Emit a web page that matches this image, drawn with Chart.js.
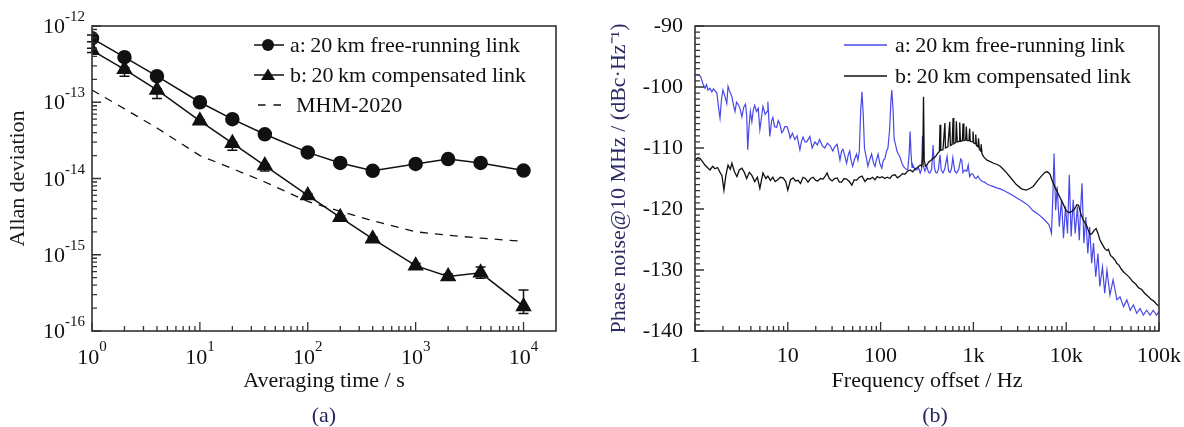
<!DOCTYPE html>
<html><head><meta charset="utf-8">
<script src="https://cdn.jsdelivr.net/npm/chart.js@4/dist/chart.umd.min.js"></script>
<style>
body{margin:0;background:#fff;width:1184px;height:427px;overflow:hidden;position:relative;font-family:"Liberation Serif","Times New Roman",serif;}
canvas{position:absolute;top:0;}
#ca{left:0;} #cb{left:592px;}
.lt{position:absolute;font-size:22px;line-height:26px;color:#111;white-space:nowrap;}
.ls{position:absolute;}
.cap{position:absolute;font-size:22px;line-height:26px;color:#262660;width:60px;text-align:center;}
</style></head>
<body>
<canvas id="ca" width="592" height="427"></canvas>
<canvas id="cb" width="592" height="427"></canvas>

<svg class="ls" style="left:253px;top:37px" width="32" height="16"><line x1="1" y1="8" x2="31" y2="8" stroke="#111" stroke-width="1.5"/><circle cx="15" cy="8" r="6" fill="#111"/></svg>
<div class="lt" style="left:290px;top:32px">a:&#8201;20&#8201;km free-running link</div>
<svg class="ls" style="left:253px;top:67px" width="32" height="16"><line x1="1" y1="8" x2="31" y2="8" stroke="#111" stroke-width="1.5"/><polygon points="15,1.5 22,13 8,13" fill="#111"/></svg>
<div class="lt" style="left:290px;top:62px">b:&#8201;20&#8201;km compensated link</div>
<svg class="ls" style="left:253px;top:97px" width="32" height="16"><line x1="5" y1="8" x2="28" y2="8" stroke="#111" stroke-width="1.3" stroke-dasharray="7.5 8"/></svg>
<div class="lt" style="left:296px;top:92px">MHM-2020</div>

<svg class="ls" style="left:844px;top:37px" width="44" height="16"><line x1="0" y1="8" x2="43" y2="8" stroke="#4848e8" stroke-width="1.3"/></svg>
<div class="lt" style="left:895px;top:32px">a:&#8201;20&#8201;km free-running link</div>
<svg class="ls" style="left:844px;top:68px" width="44" height="16"><line x1="0" y1="8" x2="43" y2="8" stroke="#111" stroke-width="1.3"/></svg>
<div class="lt" style="left:895px;top:63px">b:&#8201;20&#8201;km compensated link</div>

<div class="cap" style="left:294px;top:402px">(a)</div>
<div class="cap" style="left:905px;top:402px">(b)</div>

<script>
// ---------- Panel (a): Allan deviation ----------
const tau = [1,2,4,10,20,40,100,200,400,1000,2000,4000,10000];
const adevFree = [6.9e-13,3.9e-13,2.2e-13,1.0e-13,6.0e-14,3.8e-14,2.2e-14,1.6e-14,1.26e-14,1.55e-14,1.8e-14,1.6e-14,1.27e-14];
const adevFreeLo = [6.2e-13,3.8e-13,2.15e-13,9.8e-14,5.9e-14,3.7e-14,2.15e-14,1.56e-14,1.23e-14,1.5e-14,1.68e-14,1.45e-14,1.24e-14];
const adevFreeHi = [7.6e-13,4.0e-13,2.25e-13,1.02e-13,6.1e-14,3.9e-14,2.25e-14,1.64e-14,1.29e-14,1.6e-14,1.92e-14,1.76e-14,1.3e-14];
const adevComp = [4.8e-13,2.7e-13,1.45e-13,5.7e-14,2.9e-14,1.48e-14,6.0e-15,3.1e-15,1.62e-15,7.2e-16,5.2e-16,5.8e-16,2.1e-16];
const adevCompLo = [4.5e-13,2.2e-13,1.12e-13,5.4e-14,2.35e-14,1.25e-14,5.7e-15,2.95e-15,1.55e-15,6.7e-16,4.8e-16,4.9e-16,1.7e-16];
const adevCompHi = [5.1e-13,2.85e-13,1.5e-13,5.9e-14,3.0e-14,1.53e-14,6.3e-15,3.25e-15,1.7e-15,7.7e-16,5.6e-16,6.9e-16,3.45e-16];
const adevMHM = [1.45e-13,8.2e-14,4.6e-14,2.0e-14,1.35e-14,9.0e-15,5.0e-15,3.7e-15,2.8e-15,2.0e-15,1.8e-15,1.65e-15,1.5e-15];
const tauTicks = [1,10,100,1000,10000];
const adevTicks = [1e-16,1e-15,1e-14,1e-13,1e-12];

// ---------- Panel (b): phase noise ----------
const freqFree = [1,1.08,1.15,1.22,1.28,1.33,1.38,1.45,1.52,1.58,1.64,1.72,1.8,1.86,1.93,2.0,2.1,2.2,2.27,2.35,2.5,2.6,2.7,2.8,2.9,3.05,3.2,3.35,3.5,3.6,3.7,3.8,3.95,4.1,4.25,4.4,4.6,4.8,5.0,5.2,5.4,5.7,6.0,6.1,6.4,6.7,6.9,7.2,7.6,7.9,8.2,8.6,8.9,9.3,9.8,10.3,10.6,11.2,11.9,12.6,13.5,14.0,14.6,15.3,16.0,16.7,17.3,18.3,19.6,20.8,22.0,23.5,25,26.7,28.5,30.6,32,34,36.5,38,39.3,41,43,45,46.5,48,50,52.5,55,57,59,61,63,65,67,70,73,76,80,84,87,90,94,98,103,107,111,116,120,125,129,132,136,140,145,150,155,162,170,176,183,190,196,203,208,213,218,223,234,245,256,267,276,283,290,300,315,328,340,355,368,380,392,405,420,437,450,470,490,520,540,560,580,600,630,660,695,730,750,770,810,850,880,910,950,990,1030,1070,1120,1180,1250,1320,1400,1500,1620,1750,1950,2150,2470,2800,3100,3500,3900,4400,4950,5690,6540,6940,7200,7400,7700,8000,8430,8900,9350,9830,10330,10800,11300,11900,12500,13200,13850,14300,14800,15500,16250,17100,17900,18800,19700,20800,22000,23000,24600,26000,27500,29600,32000,35200,38000,41500,45000,49000,53000,57500,62500,67800,73500,80000,86600,94000,100000];
const noiseFree = [-98.0,-98.0,-98.3,-99.5,-100.2,-99.6,-100.5,-100.2,-100.8,-100.3,-100.6,-101.0,-103.5,-105.1,-102.0,-100.5,-101.5,-102.7,-99.9,-100.6,-101.6,-103.0,-104.0,-102.5,-102.8,-103.5,-104.9,-103.3,-102.8,-104.5,-110.3,-107.0,-104.0,-105.7,-103.8,-103.0,-104.0,-103.5,-107.0,-105.0,-103.2,-104.5,-104.0,-102.4,-108.1,-105.5,-105.0,-106.5,-106.6,-105.5,-106.0,-107.5,-107.2,-106.5,-106.5,-107.5,-108.4,-107.6,-108.6,-108.0,-110.3,-109.0,-108.2,-109.0,-109.0,-108.5,-108.1,-110.0,-109.0,-109.5,-108.6,-109.6,-110.0,-109.2,-109.6,-110.5,-109.8,-109.4,-112.0,-110.5,-110.2,-111.2,-112.5,-111.0,-110.5,-112.0,-113.0,-111.8,-111.0,-112.0,-110.5,-104.0,-100.8,-104.5,-110.0,-111.5,-113.0,-112.0,-111.0,-112.5,-113.0,-112.0,-111.0,-112.5,-113.3,-112.0,-111.8,-110.5,-110.0,-107.0,-102.5,-100.5,-103.5,-108.5,-109.5,-110.5,-111.0,-111.5,-112.5,-113.0,-113.3,-113.5,-113.6,-111.0,-107.3,-111.0,-113.2,-112.8,-113.5,-113.6,-113.2,-114.1,-113.5,-108.0,-113.0,-113.8,-113.0,-114.0,-114.1,-113.5,-109.5,-113.2,-114.0,-114.1,-113.5,-111.1,-113.6,-114.1,-113.5,-111.4,-113.8,-114.0,-113.4,-111.6,-113.8,-114.1,-113.5,-111.8,-112.0,-114.0,-113.6,-113.8,-112.8,-114.7,-114.2,-114.3,-114.9,-115.0,-114.6,-115.2,-115.5,-115.6,-115.9,-116.1,-116.3,-116.5,-116.7,-117.0,-117.5,-118.0,-118.4,-118.9,-119.4,-120.3,-120.8,-121.6,-122.6,-124.0,-117.4,-110.9,-120.2,-116.3,-122.9,-118.5,-124.8,-119.6,-124.0,-114.4,-124.5,-118.5,-124.0,-119.6,-125.1,-120.0,-115.8,-125.6,-121.3,-127.3,-122.9,-128.9,-125.6,-131.1,-127.3,-132.7,-129.5,-133.8,-130.0,-134.1,-131.6,-134.9,-134.4,-136.0,-134.9,-136.6,-135.7,-137.1,-136.3,-137.4,-136.6,-137.4,-136.6,-137.4,-136.8];
const freqComp = [1,1.07,1.13,1.2,1.28,1.36,1.45,1.55,1.64,1.75,1.86,1.95,2.05,2.15,2.27,2.4,2.5,2.65,2.83,3.0,3.2,3.4,3.6,3.85,4.1,4.4,4.7,5.0,5.2,5.4,5.8,6.1,6.5,6.9,7.3,7.8,8.3,8.9,9.5,10,10.7,11.4,12.1,12.9,13.7,14.6,15.5,16.5,17.6,18.7,20,21,22.5,24,25.3,26.5,28,30,32,34,36,38,40.5,43,46,49,52,55,59,63,68,72,77,82,87,92,98,104,111,118,126,134,143,152,162,172,183,195,208,222,236,250,267,278,285,290,295,305,315,330,350,368,390,415,430,437,445,470,493,500,530,556,565,590,604,615,645,655,670,700,712,725,760,773,790,825,839,855,895,911,925,975,990,1010,1050,1060,1080,1120,1135,1160,1200,1213,1240,1300,1400,1500,1650,1800,1950,2200,2500,2900,3300,3700,4100,4400,4900,5400,5900,6300,6700,7000,7600,8500,9300,10000,10700,11500,12300,13000,13600,14500,15500,16500,18000,19000,20000,21000,22000,23000,24500,26000,27500,28500,30000,32000,34000,35000,37000,39000,42000,45000,48000,52000,56000,60000,65000,70000,76000,82000,88000,94000,100000];
const noiseComp = [-112.0,-111.6,-111.7,-112.2,-112.8,-113.2,-113.6,-113.0,-113.4,-113.2,-114.0,-114.5,-116.9,-114.5,-112.8,-113.5,-112.5,-113.8,-114.7,-113.6,-113.3,-114.0,-115.0,-114.0,-114.5,-115.5,-114.8,-116.6,-115.3,-114.1,-115.0,-114.6,-115.3,-114.8,-115.5,-115.2,-114.8,-114.9,-115.5,-116.9,-115.2,-114.9,-115.4,-115.3,-115.8,-114.8,-115.0,-115.6,-115.0,-114.8,-115.3,-115.4,-115.0,-115.1,-114.6,-114.1,-115.0,-115.4,-115.0,-114.9,-115.6,-115.6,-115.0,-115.1,-115.5,-116.1,-115.2,-115.3,-114.8,-114.6,-115.5,-115.0,-115.1,-114.8,-115.2,-114.7,-114.9,-114.7,-115.0,-114.8,-115.0,-114.5,-114.4,-114.9,-114.6,-114.2,-114.3,-113.8,-113.6,-113.9,-113.4,-113.2,-112.8,-113.0,-111.5,-101.6,-112.0,-113.0,-112.8,-112.3,-112.0,-111.7,-111.4,-110.8,-110.6,-106.2,-110.4,-110.3,-105.9,-110.0,-109.8,-105.7,-109.6,-109.4,-105.1,-109.3,-109.1,-105.6,-109.0,-108.9,-105.8,-108.9,-108.8,-106.0,-108.8,-108.7,-106.5,-108.8,-108.8,-106.8,-108.9,-109.0,-107.3,-109.2,-109.3,-107.8,-109.6,-109.8,-108.4,-110.2,-110.5,-109.4,-111.0,-111.5,-112.0,-112.2,-112.5,-112.7,-113.0,-113.8,-114.8,-116.0,-116.7,-116.9,-116.6,-116.3,-115.4,-114.6,-114.0,-113.9,-114.3,-115.2,-116.5,-118.0,-119.2,-120.3,-120.6,-120.4,-120.0,-119.3,-119.4,-121.0,-122.0,-122.6,-124.2,-124.0,-123.5,-123.2,-124.0,-125.0,-125.8,-126.5,-126.8,-126.6,-127.6,-128.0,-128.5,-128.9,-129.2,-129.8,-130.4,-130.8,-131.2,-131.9,-132.3,-132.9,-133.2,-133.8,-134.3,-134.8,-135.1,-135.6,-135.9];
const freqTicks = [1,10,100,1000,10000,100000];
const freqTickLabels = ['1','10','100','1k','10k','100k'];
const noiseTicks = [-140,-130,-120,-110,-100,-90];

// ---------- helpers ----------
const FONT = "'Liberation Serif','Times New Roman',serif";
Chart.defaults.font.family = FONT;
Chart.defaults.font.size = 22;
Chart.defaults.color = '#111';
const pairs = (xs, ys) => xs.map((x, i) => ({x, y: ys[i]}));
const expOf = v => String(Math.round(Math.log10(v)));

const frame = {
  id: 'frame',
  afterDatasetsDraw(chart) {
    const {ctx, chartArea: a} = chart;
    ctx.save(); ctx.strokeStyle = '#333'; ctx.lineWidth = 1.6;
    ctx.strokeRect(a.left, a.top, a.right - a.left, a.bottom - a.top);
    ctx.restore();
  }
};
function tickSets(scale) {
  const maj = [], mnr = [];
  if (scale.type === 'logarithmic') {
    for (let e = Math.floor(Math.log10(scale.min)); e <= Math.ceil(Math.log10(scale.max)); e++) {
      const d = Math.pow(10, e);
      if (d >= scale.min * 0.999 && d <= scale.max * 1.001) maj.push(d);
      for (let k = 2; k < 10; k++) { const v = k * d; if (v > scale.min && v < scale.max * 0.999) mnr.push(v); }
    }
  } else {
    for (let v = scale.min; v <= scale.max; v += 1) { if (v % 10 === 0) maj.push(v); else mnr.push(v); }
  }
  return [maj, mnr];
}
const inTicks = {
  id: 'inTicks',
  afterDatasetsDraw(chart) {
    const {ctx, chartArea: a, scales} = chart;
    ctx.save(); ctx.strokeStyle = '#333'; ctx.lineWidth = 1.3;
    const [xm, xn] = tickSets(scales.x);
    const [ym, yn] = tickSets(scales.y);
    ctx.beginPath();
    xm.forEach(v => { const p = scales.x.getPixelForValue(v); ctx.moveTo(p, a.bottom); ctx.lineTo(p, a.bottom - 9); });
    xn.forEach(v => { const p = scales.x.getPixelForValue(v); ctx.moveTo(p, a.bottom); ctx.lineTo(p, a.bottom - 5); });
    ym.forEach(v => { const p = scales.y.getPixelForValue(v); ctx.moveTo(a.left, p); ctx.lineTo(a.left + 9, p); });
    yn.forEach(v => { const p = scales.y.getPixelForValue(v); ctx.moveTo(a.left, p); ctx.lineTo(a.left + 5, p); });
    ctx.stroke(); ctx.restore();
  }
};
// power-of-ten tick labels with a real superscript exponent, placed through the scales
const powLabels = {
  id: 'powLabels',
  afterDraw(chart) {
    const {ctx, chartArea: a, scales} = chart;
    ctx.save(); ctx.fillStyle = '#111'; ctx.textBaseline = 'alphabetic'; ctx.textAlign = 'left';
    const big = "22px " + FONT, small = "15px " + FONT;
    const meas = (v) => { ctx.font = big; const w1 = ctx.measureText('10').width; ctx.font = small; const w2 = ctx.measureText(expOf(v)).width; return [w1, w2]; };
    tauTicks.forEach(v => {
      const px = scales.x.getPixelForValue(v); const [w1, w2] = meas(v); const x0 = px - (w1 + w2) / 2;
      ctx.font = big; ctx.fillText('10', x0, a.bottom + 33);
      ctx.font = small; ctx.fillText(expOf(v), x0 + w1, a.bottom + 20);
    });
    adevTicks.forEach(v => {
      const py = scales.y.getPixelForValue(v); const [w1, w2] = meas(v); const x0 = a.left - 7 - w1 - w2;
      ctx.font = big; ctx.fillText('10', x0, py + 7);
      ctx.font = small; ctx.fillText(expOf(v), x0 + w1, py - 5);
    });
    ctx.restore();
  }
};
const errorBars = {
  id: 'errorBars',
  beforeDatasetsDraw(chart) {
    const {ctx} = chart; const ys = chart.scales.y;
    ctx.save(); ctx.strokeStyle = '#111'; ctx.lineWidth = 1.5;
    chart.data.datasets.forEach((ds, i) => {
      if (!ds.errLo) return;
      chart.getDatasetMeta(i).data.forEach((pt, j) => {
        const y1 = ys.getPixelForValue(ds.errLo[j]), y2 = ys.getPixelForValue(ds.errHi[j]);
        ctx.beginPath();
        ctx.moveTo(pt.x, y1); ctx.lineTo(pt.x, y2);
        ctx.moveTo(pt.x - 5, y1); ctx.lineTo(pt.x + 5, y1);
        ctx.moveTo(pt.x - 5, y2); ctx.lineTo(pt.x + 5, y2);
        ctx.stroke();
      });
    });
    ctx.restore();
  }
};
const noEdgePad = s => { s.paddingLeft = 0; s.paddingRight = 0; s.paddingTop = 0; s.paddingBottom = 0; };

// ---------- chart (a) ----------
new Chart(document.getElementById('ca'), {
  type: 'scatter',
  data: { datasets: [
    { label: 'a: 20 km free-running link', data: pairs(tau, adevFree), errLo: adevFreeLo, errHi: adevFreeHi,
      showLine: true, borderColor: '#111', backgroundColor: '#111', borderWidth: 1.5, pointStyle: 'circle', pointRadius: 6.5 },
    { label: 'b: 20 km compensated link', data: pairs(tau, adevComp), errLo: adevCompLo, errHi: adevCompHi,
      showLine: true, borderColor: '#111', backgroundColor: '#111', borderWidth: 1.5, pointStyle: 'triangle', pointRadius: 8 },
    { label: 'MHM-2020', data: pairs(tau, adevMHM), showLine: true, borderColor: '#111', borderWidth: 1.3,
      borderDash: [8, 7], pointRadius: 0 }
  ]},
  options: {
    responsive: false, animation: false, devicePixelRatio: 1,
    layout: { padding: { left: 0, right: 36, top: 26, bottom: 33 } },
    plugins: { legend: { display: false }, tooltip: { enabled: false } },
    scales: {
      x: { type: 'logarithmic', min: 1, max: 2e4,
        grid: { display: false, drawTicks: false }, border: { display: false },
        afterBuildTicks: s => { s.ticks = tauTicks.map(v => ({ value: v })); },
        ticks: { display: false },
        title: { display: true, text: 'Averaging time / s', padding: 0, color: '#111' },
        afterFit: s => { s.height = 63; noEdgePad(s); } },
      y: { type: 'logarithmic', min: 1e-16, max: 1e-12,
        grid: { display: false, drawTicks: false }, border: { display: false },
        afterBuildTicks: s => { s.ticks = adevTicks.map(v => ({ value: v })); },
        ticks: { display: false },
        title: { display: true, text: 'Allan deviation', padding: { top: 5, bottom: 0 }, color: '#1a1a1a' },
        afterFit: s => { s.width = 92; noEdgePad(s); } }
    }
  },
  plugins: [errorBars, inTicks, frame, powLabels]
});

// ---------- chart (b) ----------
new Chart(document.getElementById('cb'), {
  type: 'scatter',
  data: { datasets: [
    { label: 'a: 20 km free-running link', data: pairs(freqFree, noiseFree), showLine: true,
      borderColor: '#4848e8', borderWidth: 1.2, pointRadius: 0, order: 1 },
    { label: 'b: 20 km compensated link', data: pairs(freqComp, noiseComp), showLine: true,
      borderColor: '#111', borderWidth: 1.3, pointRadius: 0, order: 0 }
  ]},
  options: {
    responsive: false, animation: false, devicePixelRatio: 1,
    layout: { padding: { left: 10, right: 25, top: 26, bottom: 33 } },
    plugins: { legend: { display: false }, tooltip: { enabled: false } },
    scales: {
      x: { type: 'logarithmic', min: 1, max: 1e5,
        grid: { display: false, drawTicks: false }, border: { display: false },
        afterBuildTicks: s => { s.ticks = freqTicks.map(v => ({ value: v })); },
        ticks: { callback: (v) => freqTickLabels[freqTicks.indexOf(v)], padding: 12, maxRotation: 0, autoSkip: false, color: '#111' },
        title: { display: true, text: 'Frequency offset / Hz', padding: 0, color: '#111' },
        afterFit: s => { s.height = 63; noEdgePad(s); } },
      y: { min: -140, max: -90,
        grid: { display: false, drawTicks: false }, border: { display: false },
        afterBuildTicks: s => { s.ticks = noiseTicks.map(v => ({ value: v })); },
        ticks: { callback: v => String(v), padding: 12, autoSkip: false, color: '#111' },
        title: { display: true, text: 'Phase noise@10 MHz / (dBc\u00B7Hz\u207B\u00B9)', padding: { top: 4, bottom: 0 }, color: '#2b2b63' },
        afterFit: s => { s.width = 93; noEdgePad(s); } }
    }
  },
  plugins: [inTicks, frame]
});
</script>
</body></html>
